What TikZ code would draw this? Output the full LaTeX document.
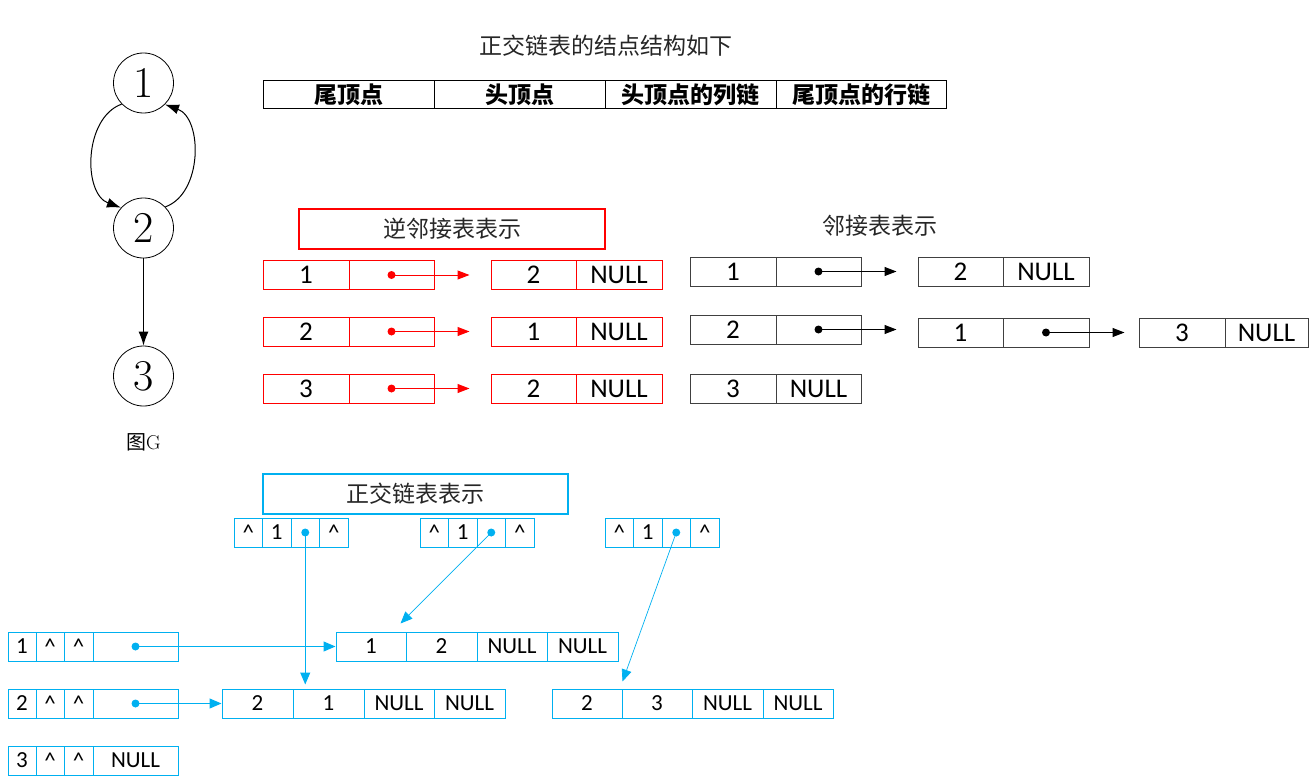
\documentclass[tikz,border=0pt]{standalone}
\usepackage{fontspec}
\newfontfamily\numf{Carlito}
\newfontfamily\cjk{Noto Sans CJK SC}
\usetikzlibrary{arrows.meta}
\definecolor{bl}{RGB}{0,176,240}
\definecolor{rd}{RGB}{255,0,0}
\definecolor{gr}{RGB}{64,64,64}
\begin{document}
\begin{tikzpicture}[x=1pt,y=1pt,
  cellr/.style={draw=rd,line width=1pt,minimum height=29pt,inner sep=0pt,font=\numf\fontsize{27}{27}\selectfont},
  cellk/.style={draw=gr,line width=1pt,minimum height=29pt,inner sep=0pt,font=\numf\fontsize{27}{27}\selectfont},
  cellb/.style={draw=bl,line width=1pt,minimum height=29pt,inner sep=0pt,font=\numf\fontsize{23}{23}\selectfont},
  thead/.style={draw=black,line width=1pt,minimum height=28pt,inner sep=0pt,font=\cjk\bfseries\fontsize{23}{23}\selectfont},
  ttl/.style={inner sep=0pt,font=\cjk\fontsize{23}{23}\selectfont,text=black!85},
  rtitle/.style={rectangle,draw=red,line width=1.2pt,minimum width=306pt,minimum height=40pt,inner sep=0pt,font=\cjk\fontsize{23}{23}\selectfont,text=black!85},
  btitle/.style={rectangle,draw=bl,line width=1.2pt,minimum width=305pt,minimum height=40pt,inner sep=0pt,font=\cjk\fontsize{23}{23}\selectfont,text=black!85},
  vert/.style={draw,circle,line width=0.8pt,minimum size=60pt,inner sep=0pt,font=\fontsize{44}{44}\selectfont},
  garrow/.style={line width=1pt,-{Latex[length=14pt,width=10pt]}},
  rarrow/.style={draw=rd,line width=1pt,-{Triangle[length=12pt,width=9pt]}},
  karrow/.style={draw=black,line width=1pt,-{Triangle[length=12pt,width=9pt]}},
  barrow/.style={draw=bl,line width=1pt,-{Triangle[length=12pt,width=10pt]}},
  bthin/.style={draw=bl,line width=0.7pt,-{Triangle[length=12pt,width=10pt]}},
]
\useasboundingbox (0,0) rectangle (1316,-781);

% ---------- graph G ----------
\node[vert] (g1) at (143.5,-83) {1};
\node[vert] (g2) at (143.5,-228) {2};
\node[vert] (g3) at (143.5,-376) {3};
\node[inner sep=0pt,font=\fontsize{20}{20}\selectfont] (gl) at (143.5,-442) {{\cjk 图}G};
\draw[garrow] (g1.224) to[out=200,in=160] (g2.138);
\draw[garrow] (g2.44) to[out=20,in=-20] (g1.-45);
\draw[garrow] (g2) -- (g3);

% ---------- node structure ----------
\node[ttl] (ttop) at (606,-46) {正交链表的结点结构如下};
\node[thead,minimum width=171pt] (h1) at (348.5,-95) {尾顶点};
\node[thead,minimum width=171pt] (h2) at (519.5,-95) {头顶点};
\node[thead,minimum width=171pt] (h3) at (690.5,-95) {头顶点的列链};
\node[thead,minimum width=170pt] (h4) at (861,-95) {尾顶点的行链};

% ---------- inverse adjacency list (red) ----------
\node[rtitle] (rt) at (452,-229) {逆邻接表表示};
\foreach \r/\y/\a/\c in {1/275/1/2, 2/331.5/2/1, 3/388.5/3/2}{
  \node[cellr,minimum width=86pt] (r\r a) at (306,-\y) {\a};
  \node[cellr,minimum width=85pt] (r\r b) at (391.5,-\y) {};
  \node[cellr,minimum width=85pt] (r\r c) at (533.5,-\y) {\c};
  \node[cellr,minimum width=86pt] (r\r d) at (619,-\y) {NULL};
  \fill[rd] (r\r b.center) circle (4pt);
  \draw[rarrow] (r\r b.center) -- ([xshift=-21pt]r\r c.west);
}

% ---------- adjacency list (black) ----------
\node[ttl] (kt) at (880,-226) {邻接表表示};
\node[cellk,minimum width=86pt] (k1a) at (733,-271.5) {1};
\node[cellk,minimum width=85pt] (k1b) at (818.5,-271.5) {};
\node[cellk,minimum width=85pt] (k1c) at (960.5,-271.5) {2};
\node[cellk,minimum width=86pt] (k1d) at (1046,-271.5) {NULL};
\fill (k1b.center) circle (4pt);
\draw[karrow] (k1b.center) -- ([xshift=-21pt]k1c.west);

\node[cellk,minimum width=86pt] (k2a) at (733,-329.5) {2};
\node[cellk,minimum width=85pt] (k2b) at (818.5,-329.5) {};
\node[cellk,minimum width=85pt] (k2c) at (960.5,-332.5) {1};
\node[cellk,minimum width=86pt] (k2d) at (1046,-332.5) {};
\node[cellk,minimum width=86pt] (k2e) at (1182,-332.5) {3};
\node[cellk,minimum width=83pt] (k2f) at (1266.5,-332.5) {NULL};
\fill (k2b.center) circle (4pt);
\draw[karrow] (k2b.center) -- ([xshift=-21pt]k2c.west |- k2b.center);
\fill (k2d.center) circle (4pt);
\draw[karrow] (k2d.center) -- ([xshift=-14pt]k2e.west);

\node[cellk,minimum width=86pt] (k3a) at (733,-388.5) {3};
\node[cellk,minimum width=85pt] (k3b) at (818.5,-388.5) {NULL};

% ---------- orthogonal list (blue) ----------
\node[btitle] (bt) at (415.5,-494) {正交链表表示};

\foreach \t/\x in {1/234, 2/420, 3/605}{
  \node[cellb,minimum width=28.5pt] (t\t a) at (\x+14.25,-532.5) {\^{}};
  \node[cellb,minimum width=28.5pt] (t\t b) at (\x+42.75,-532.5) {1};
  \node[cellb,minimum width=28.5pt] (t\t c) at (\x+71.25,-532.5) {};
  \node[cellb,minimum width=28.5pt] (t\t d) at (\x+99.75,-532.5) {\^{}};
  \fill[bl] (t\t c.center) circle (4pt);
}

\foreach \r/\y in {1/646.5, 2/703.5, 3/760.5}{
  \node[cellb,minimum width=28pt] (l\r a) at (22,-\y) {\r};
  \node[cellb,minimum width=28pt] (l\r b) at (50,-\y) {\^{}};
  \node[cellb,minimum width=29pt] (l\r c) at (78.5,-\y) {\^{}};
}
\node[cellb,minimum width=85pt] (l1d) at (135.5,-646.5) {};
\node[cellb,minimum width=85pt] (l2d) at (135.5,-703.5) {};
\node[cellb,minimum width=85pt] (l3d) at (135.5,-760.5) {NULL};
\fill[bl] (l1d.center) circle (4pt);
\fill[bl] (l2d.center) circle (4pt);

\node[cellb,minimum width=70pt] (m1a) at (371,-646.5) {1};
\node[cellb,minimum width=71pt] (m1b) at (441.5,-646.5) {2};
\node[cellb,minimum width=70pt] (m1c) at (512,-646.5) {NULL};
\node[cellb,minimum width=71pt] (m1d) at (582.5,-646.5) {NULL};

\node[cellb,minimum width=71pt] (m2a) at (257.5,-703.5) {2};
\node[cellb,minimum width=71pt] (m2b) at (328.5,-703.5) {1};
\node[cellb,minimum width=70pt] (m2c) at (399,-703.5) {NULL};
\node[cellb,minimum width=71pt] (m2d) at (469.5,-703.5) {NULL};

\node[cellb,minimum width=70pt] (n2a) at (587,-703.5) {2};
\node[cellb,minimum width=70pt] (n2b) at (657,-703.5) {3};
\node[cellb,minimum width=71pt] (n2c) at (727.5,-703.5) {NULL};
\node[cellb,minimum width=70pt] (n2d) at (798,-703.5) {NULL};

\draw[barrow] (l1d.center) -- (m1a.west);
\draw[barrow] (l2d.center) -- (m2a.west);
\draw[barrow] (t1c.center) -- ([yshift=4pt]t1c.center |- m2b.north);
\draw[bthin] (t2c.center) -- ([xshift=-6pt,yshift=8pt]m1a.north east);
\draw[bthin] (t3c.center) -- ([yshift=7pt]n2a.north east);
\end{tikzpicture}
\end{document}
